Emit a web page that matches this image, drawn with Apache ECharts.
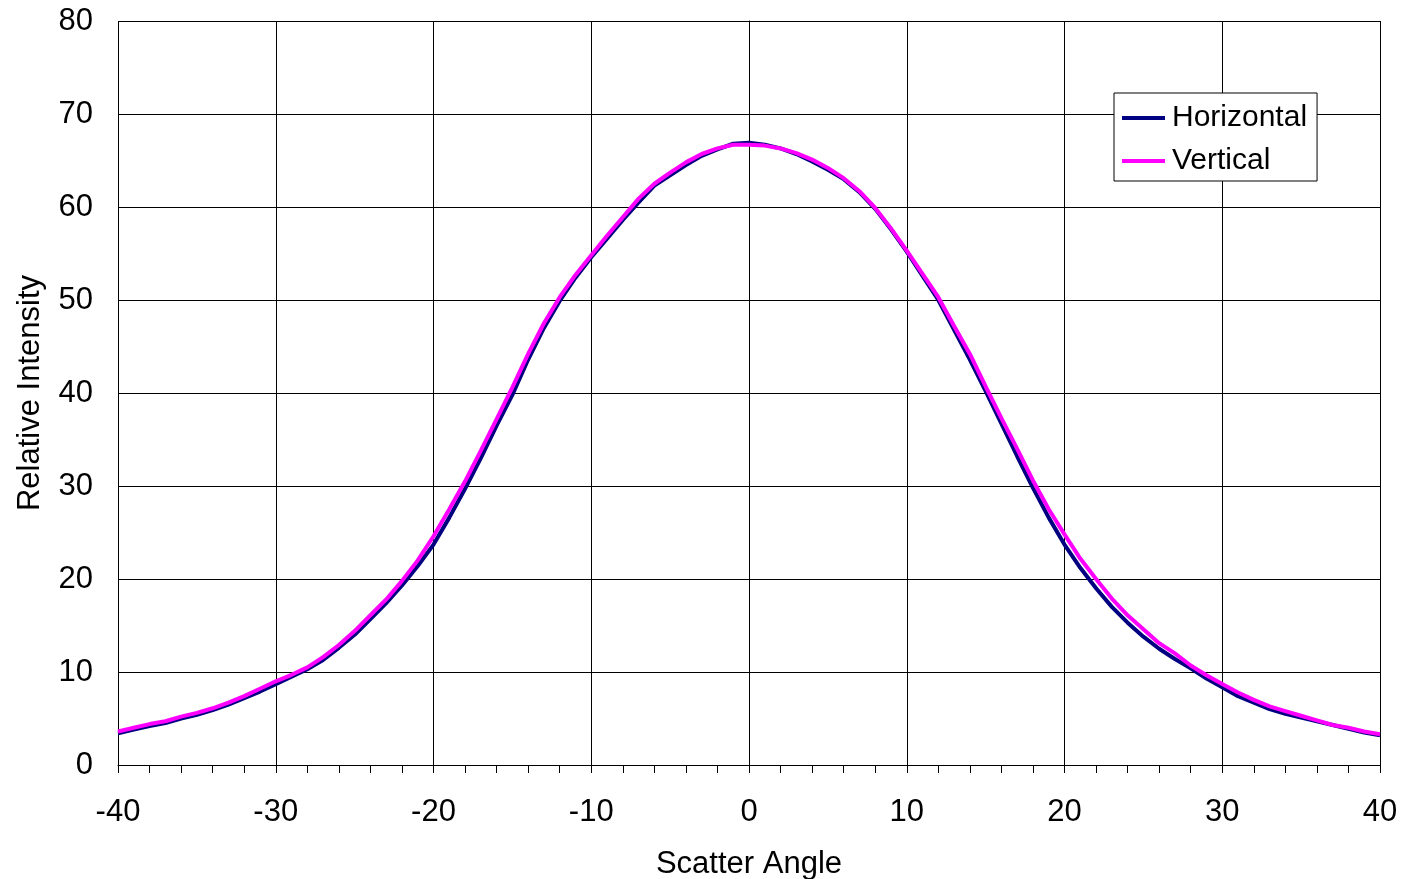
<!DOCTYPE html>
<html>
<head>
<meta charset="utf-8">
<script src="https://cdn.jsdelivr.net/npm/echarts@6/dist/echarts.min.js"></script>
<style>
html,body{margin:0;padding:0;background:#fff;}
#chart{width:1401px;height:879px;}
</style>
</head>
<body>
<div id="chart"></div>
<script>
const angles = [-40,-39,-38,-37,-36,-35,-34,-33,-32,-31,-30,-29,-28,-27,-26,-25,-24,-23,-22,-21,-20,-19,-18,-17,-16,-15,-14,-13,-12,-11,-10,-9,-8,-7,-6,-5,-4,-3,-2,-1,0,1,2,3,4,5,6,7,8,9,10,11,12,13,14,15,16,17,18,19,20,21,22,23,24,25,26,27,28,29,30,31,32,33,34,35,36,37,38,39,40];
const horizontal = [3.4,3.8,4.2,4.5,5.0,5.4,5.9,6.5,7.2,7.9,8.7,9.5,10.3,11.3,12.6,14.0,15.7,17.4,19.3,21.4,23.7,26.6,29.7,33.0,36.5,39.8,43.6,47.0,49.9,52.4,54.6,56.6,58.6,60.5,62.3,63.4,64.5,65.5,66.2,66.8,66.9,66.7,66.3,65.7,64.9,64.0,63.0,61.6,59.8,57.6,55.2,52.6,50.0,46.8,43.6,40.2,36.7,33.2,29.8,26.6,23.7,21.2,19.0,17.0,15.3,13.8,12.5,11.4,10.4,9.3,8.35,7.4,6.7,6.0,5.5,5.1,4.7,4.3,3.9,3.5,3.2];
const vertical = [3.6,4.0,4.4,4.7,5.2,5.6,6.1,6.7,7.4,8.2,9.0,9.7,10.5,11.6,12.9,14.4,16.1,17.8,19.8,22.0,24.6,27.5,30.5,33.8,37.2,40.6,44.2,47.5,50.3,52.7,54.8,56.9,58.9,60.9,62.5,63.7,64.8,65.7,66.3,66.7,66.7,66.6,66.3,65.8,65.1,64.2,63.1,61.7,59.9,57.7,55.3,52.8,50.3,47.2,44.2,40.7,37.3,34.0,30.6,27.5,24.8,22.2,20.0,17.9,16.1,14.6,13.1,12.0,10.7,9.65,8.7,7.8,7.0,6.3,5.8,5.3,4.8,4.3,4.0,3.6,3.3];
const seriesNames = ['Horizontal','Vertical'];
const xAxisName = 'Scatter Angle';
const yAxisName = 'Relative Intensity';

const FONT = '"Liberation Sans", Arial, sans-serif';
const chart = echarts.init(document.getElementById('chart'), null, {renderer:'canvas'});
const pairs = arr => angles.map((a,i)=>[a, arr[i]]);

chart.setOption({
  animation:false,
  backgroundColor:'#fff',
  textStyle:{fontFamily:FONT},
  grid:{left:118, right:21, top:21, bottom:114, containLabel:false, outerBoundsMode:'none'},
  legend:{
    orient:'vertical',
    left:1114, top:93,
    padding:[10,10,5,8],
    itemGap:13,
    itemWidth:43, itemHeight:4,
    borderColor:'#000', borderWidth:1,
    backgroundColor:'#fff',
    textStyle:{fontFamily:FONT, fontSize:30, color:'#000', padding:[0,0,0,2]},
    data:[
      {name:seriesNames[0], icon:'rect'},
      {name:seriesNames[1], icon:'rect'}
    ]
  },
  xAxis:{
    type:'value', min:-40, max:40, interval:10,
    name:xAxisName, nameLocation:'middle', nameGap:84,
    nameTextStyle:{fontFamily:FONT, fontSize:31, color:'#000'},
    axisLine:{onZero:false, lineStyle:{color:'#000', width:1}},
    axisTick:{show:true, inside:false, length:8, lineStyle:{color:'#000'}},
    minorTick:{show:true, splitNumber:5, length:8, lineStyle:{color:'#000'}},
    axisLabel:{fontFamily:FONT, fontSize:31, color:'#000', margin:32},
    splitLine:{show:true, lineStyle:{color:'#000', width:1}}
  },
  yAxis:{
    type:'value', min:0, max:80, interval:10,
    name:yAxisName, nameLocation:'middle', nameGap:72,
    nameTextStyle:{fontFamily:FONT, fontSize:31, color:'#000'},
    axisLine:{show:true, lineStyle:{color:'#000', width:1}},
    axisTick:{show:true, inside:false, length:9, lineStyle:{color:'#000'}},
    axisLabel:{fontFamily:FONT, fontSize:31, color:'#000', margin:25},
    splitLine:{show:true, lineStyle:{color:'#000', width:1}}
  },
  series:[
    {name:seriesNames[0], type:'line', data:pairs(horizontal), showSymbol:false, symbol:'none',
     smooth:false, lineStyle:{color:'#000080', width:4}, itemStyle:{color:'#000080'}},
    {name:seriesNames[1], type:'line', data:pairs(vertical), showSymbol:false, symbol:'none',
     smooth:false, lineStyle:{color:'#FF00FF', width:4}, itemStyle:{color:'#FF00FF'}}
  ]
});
</script>
</body>
</html>
